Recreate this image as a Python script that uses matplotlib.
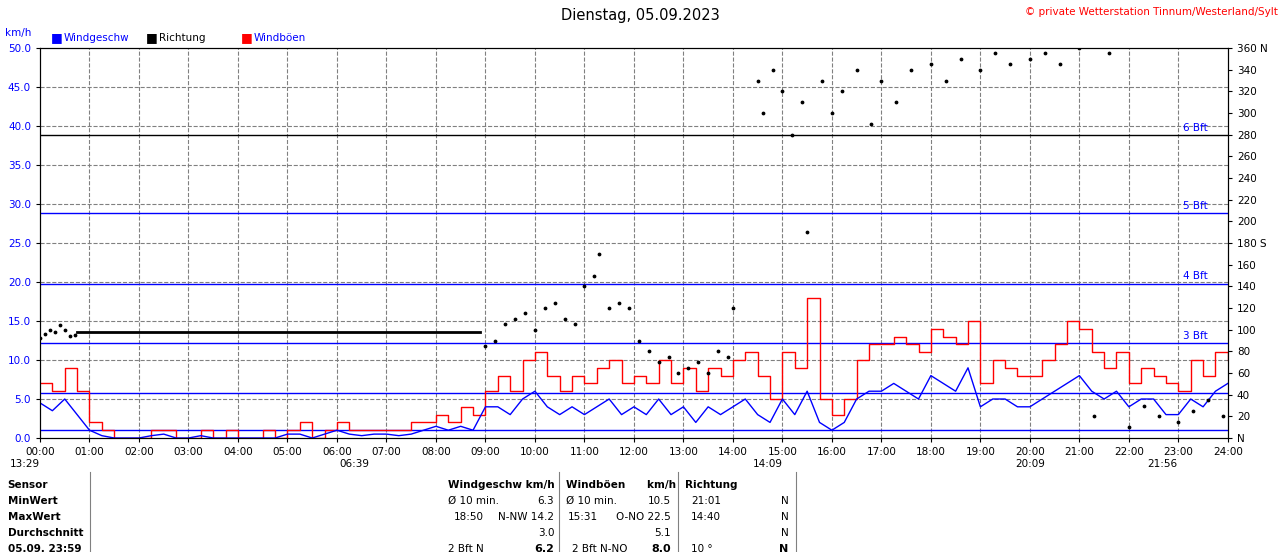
import numpy as np
import matplotlib.pyplot as plt

# 15-minute estimates, 00:00 .. 24:00
windSpeed = [4.5,3.5,5,3, 1,0.3,0,0, 0,0.3,0.5,0, 0,0.3,0,0, 0,0,0,0, 0.5,0.5,0,0.5,
             1,0.5,0.3,0.5, 0.5,0.3,0.5,1, 1.5,1,1.5,1, 4,4,3,5, 6,4,3,4, 3,4,5,3,
             4,3,5,3, 4,2,4,3, 4,5,3,2, 5,3,6,2, 1,2,5,6, 6,7,6,5, 8,7,6,9,
             4,5,5,4, 4,5,6,7, 8,6,5,6, 4,5,5,3, 3,5,4,6, 7]
windGust = [7,6,9,6, 2,1,0,0, 0,1,1,0, 0,1,0,1, 0,0,1,0, 1,2,0,1, 2,1,1,1, 1,1,2,2,
            3,2,4,3, 6,8,6,10, 11,8,6,8, 7,9,10,7, 8,7,10,7, 9,6,9,8, 10,11,8,5,
            11,9,18,5, 3,5,10,12, 12,13,12,11, 14,13,12,15, 7,10,9,8, 8,10,12,15,
            14,11,9,11, 7,9,8,7, 6,10,8,11, 10]
dirTime = [0.0,0.1,0.2,0.3,0.4,0.5,0.6,0.7, 9.0,9.2,9.4,9.6,9.8, 10.0,10.2,10.4,10.6,10.8,
           11.0,11.2,11.3,11.5,11.7,11.9, 12.1,12.3,12.5,12.7,12.9, 13.1,13.3,13.5,13.7,13.9,
           14.0,14.5,14.6,14.8,15.0,15.2,15.4,15.5,15.8,16.0,16.2,16.5,16.8,17.0,17.3,17.6,
           18.0,18.3,18.6,19.0,19.3,19.6,20.0,20.3,20.6,21.0,21.3,21.6,22.0,22.3,22.6,23.0,23.3,23.6,23.9]
dirDeg = [92,96,100,98,104,100,94,95, 85,90,105,110,115, 100,120,125,110,105,
          140,150,170,120,125,120, 90,80,70,75,60, 65,70,60,80,75,
          120,330,300,340,320,280,310,190,330,300,320,340,290,330,310,340,
          345,330,350,340,355,345,350,355,345,360,20,355,10,30,20,15,25,35,20]

hours = np.arange(len(windSpeed)) * 0.25

fig = plt.figure(figsize=(12.8, 5.52), dpi=100)
ax = fig.add_axes([0.03125, 0.2065, 0.928, 0.7065])
ax.set_xlim(0, 24)
ax.set_ylim(0, 50)
for x in range(1, 24):
    ax.axvline(x, color='gray', ls='--', lw=0.8)
for y in np.arange(5, 50, 5):
    ax.axhline(y, color='gray', ls='--', lw=0.8)

bft = [(1.0, ''), (5.8, ''), (12.2, '3 Bft'), (19.8, '4 Bft'), (28.8, '5 Bft'), (38.8, '6 Bft')]
for y, lab in bft:
    ax.axhline(y, color='black' if lab == '6 Bft' else 'blue', lw=1)
    if lab:
        ax.text(23.6, y + 0.3, lab, color='blue', fontsize=7.5, ha='right', va='bottom')

ax.plot(hours, windGust, color='red', lw=1, drawstyle='steps-post')
ax.plot(hours, windSpeed, color='blue', lw=1)
ax.plot([0.75, 8.9], [98 / 7.2, 98 / 7.2], color='black', lw=2)
ax.scatter(dirTime, np.array(dirDeg) / 7.2, s=3, color='black', zorder=5)

ax.set_xticks(range(25))
ax.set_xticklabels(['%02d:00' % h for h in range(25)], fontsize=7.5)
ax.set_yticks(np.arange(0, 50.1, 5))
ax.set_yticklabels(['%.1f' % v for v in np.arange(0, 50.1, 5)], fontsize=7.5, color='blue')
ax.tick_params(length=3)

ax2 = ax.twinx()
ax2.set_ylim(0, 360)
ax2.set_yticks(range(0, 361, 20))
ax2.set_yticklabels(['N' if d in (0,) else '360 N' if d == 360 else '180 S' if d == 180 else str(d)
                     for d in range(0, 361, 20)], fontsize=7.5)
ax2.tick_params(length=3)

fig.text(0.5, 0.972, 'Dienstag, 05.09.2023', ha='center', va='center', fontsize=10.5)
fig.text(0.998, 0.978, '© private Wetterstation Tinnum/Westerland/Sylt', ha='right', va='center',
         fontsize=7.5, color='red')
fig.text(0.004, 0.94, 'km/h', fontsize=7.5, color='blue', va='center')
for xp, col, lab in [(0.04, 'blue', 'Windgeschw'), (0.114, 'black', 'Richtung'), (0.188, 'red', 'Windböen')]:
    fig.text(xp, 0.932, '■', color=col, fontsize=9, va='center')
    fig.text(xp + 0.01, 0.932, lab, color='blue' if col != 'black' else 'black', fontsize=7.5, va='center')

for xp, lab in [(0.008, '13:29'), (0.265, '06:39'), (0.588, '14:09'), (0.793, '20:09'), (0.896, '21:56')]:
    fig.text(xp, 0.16, lab, fontsize=7.5, va='center')

rows = ['Sensor', 'MinWert', 'MaxWert', 'Durchschnitt', '05.09. 23:59']
for i, r in enumerate(rows):
    fig.text(0.006, 0.122 - i * 0.029, r, fontsize=7.5, weight='bold', va='center')
fig.add_artist(plt.Line2D([0.07, 0.07], [0, 0.145], color='gray', lw=0.8))
for xv in [0.437, 0.530, 0.622]:
    fig.add_artist(plt.Line2D([xv, xv], [0, 0.145], color='gray', lw=0.8))
fig.text(0.350, 0.122, 'Windgeschw km/h', fontsize=7.5, weight='bold', va='center')
fig.text(0.442, 0.122, 'Windböen      km/h', fontsize=7.5, weight='bold', va='center')
fig.text(0.535, 0.122, 'Richtung', fontsize=7.5, weight='bold', va='center')
cells = [
    (0.350, 'Ø 10 min.', 'l'), (0.433, '6.3', 'r'), (0.442, 'Ø 10 min.', 'l'), (0.524, '10.5', 'r'),
    (0.540, '21:01', 'l'), (0.616, 'N', 'r')]
def put(row, items, bold_last=False):
    for xp, txt, al in items:
        fig.text(xp, 0.122 - row * 0.029, txt, fontsize=7.5, va='center',
                 ha='left' if al == 'l' else 'right')
put(1, cells)
put(2, [(0.378, '18:50', 'r'), (0.433, 'N-NW 14.2', 'r'), (0.467, '15:31', 'r'), (0.524, 'O-NO 22.5', 'r'),
        (0.540, '14:40', 'l'), (0.616, 'N', 'r')])
put(3, [(0.433, '3.0', 'r'), (0.524, '5.1', 'r'), (0.616, 'N', 'r')])
put(4, [(0.378, '2 Bft N', 'r'), (0.447, '2 Bft N-NO', 'l'), (0.540, '10 °', 'l')])
for xp, t in [(0.433, '6.2'), (0.524, '8.0'), (0.616, 'N')]:
    fig.text(xp, 0.006, t, fontsize=8, weight='bold', ha='right', va='center')

fig.savefig('out.png')
